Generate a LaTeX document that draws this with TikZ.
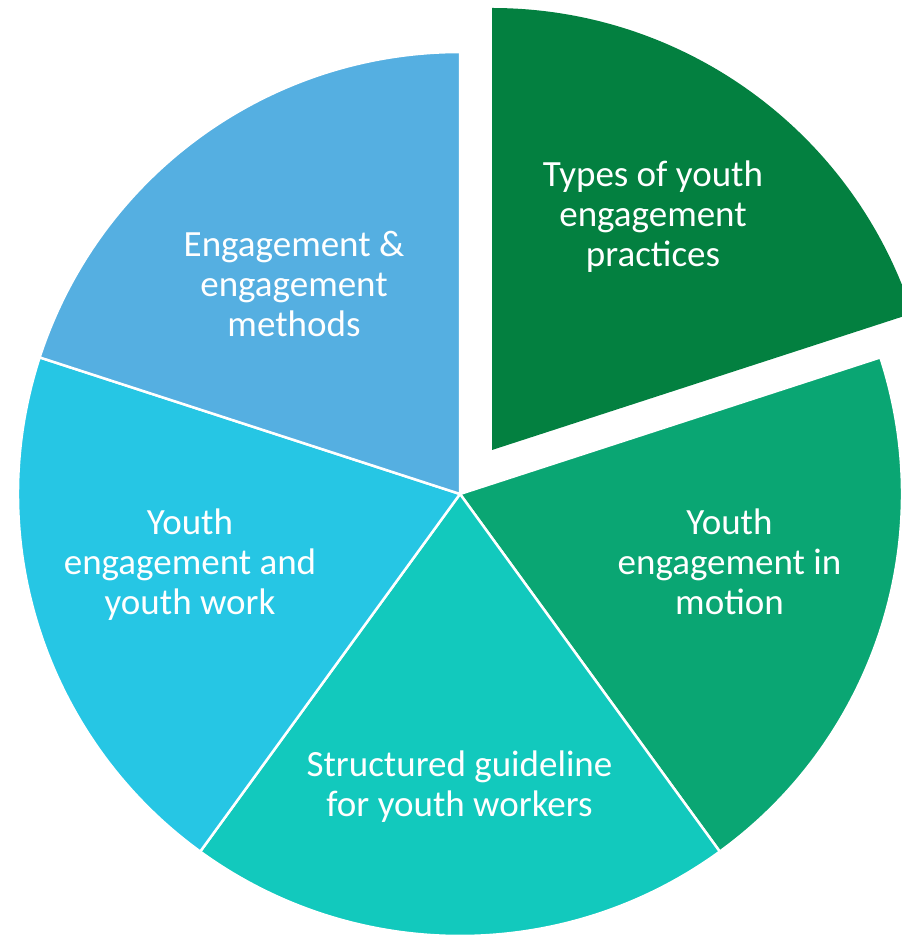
\documentclass[tikz,border=0pt]{standalone}
\usepackage{fontspec}
\setmainfont{Carlito}
\definecolor{cTypes}{HTML}{038040}
\definecolor{cMotion}{HTML}{0AA673}
\definecolor{cGuide}{HTML}{12C9BD}
\definecolor{cWork}{HTML}{26C6E4}
\definecolor{cMethods}{HTML}{55AFE1}
\begin{document}
\begin{tikzpicture}[x=1pt,y=1pt,
  slice/.style={draw=white,line width=2.5pt,line join=round},
  lbl/.style={text=white,align=center,font=\fontsize{37}{40}\selectfont,inner sep=0pt,anchor=base}]
\useasboundingbox (0,0) rectangle (902,935);
\coordinate (c) at (460,441);
\coordinate (ce) at (492,485);
% main slices
\filldraw[fill=cMotion,slice] (c) -- ++(18:442) arc[start angle=18,end angle=-54,radius=442] -- cycle;
\filldraw[fill=cGuide,slice] (c) -- ++(-54:442) arc[start angle=-54,end angle=-126,radius=442] -- cycle;
\filldraw[fill=cWork,slice] (c) -- ++(-126:442) arc[start angle=-126,end angle=-198,radius=442] -- cycle;
\filldraw[fill=cMethods,slice] (c) -- ++(162:442) arc[start angle=162,end angle=90,radius=442] -- cycle;
% exploded slice
\fill[cTypes] (ce) -- ++(18:442) arc[start angle=18,end angle=90,radius=442] -- cycle;
% labels (anchor = baseline of last line)
\node[lbl] (types) at (653,668) {Types of youth\\engagement\\practices};
\node[lbl] (methods) at (294,598) {Engagement \&\\engagement\\methods};
\node[lbl] (work) at (190,320) {Youth\\engagement and\\youth work};
\node[lbl] (motion) at (729.5,320) {Youth\\engagement in\\motion};
\node[lbl] (guide) at (459.5,118) {Structured guideline\\for youth workers};
\end{tikzpicture}
\end{document}
